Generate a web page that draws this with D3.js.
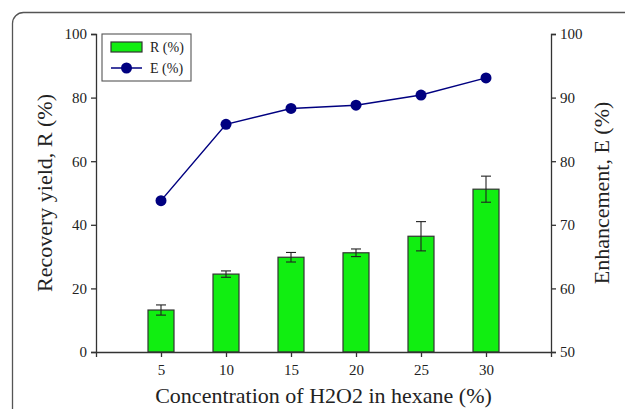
<!DOCTYPE html>
<html>
<head>
<meta charset="utf-8">
<script src="https://cdn.jsdelivr.net/npm/d3@7"></script>
<style>
  body { margin: 0; background: #fff; }
  svg text { font-family: "Liberation Serif", "Times New Roman", Times, serif; fill: #222; }
</style>
</head>
<body>
<div id="chart"></div>
<script>
// data
var conc = [5, 10, 15, 20, 25, 30];
var recovery = [13.2, 24.5, 29.8, 31.2, 36.4, 51.2];
var recoveryErr = [1.6, 1.0, 1.5, 1.2, 4.6, 4.1];
var enhancement = [73.8, 85.8, 88.3, 88.8, 90.4, 93.1];
var leftTicks = [0, 20, 40, 60, 80, 100];
var rightTicks = [50, 60, 70, 80, 90, 100];

var serif = '"Liberation Serif", "Times New Roman", Times, serif';

var margin = {top: 34, right: 74, bottom: 57, left: 96},
    width = 625 - margin.left - margin.right,
    height = 409 - margin.top - margin.bottom;

var svg = d3.select("#chart")
  .append("svg")
    .attr("width", 625)
    .attr("height", 409);

// frame around the figure
svg.append("rect")
  .attr("x", 12.5).attr("y", 12.5)
  .attr("width", 640).attr("height", 430)
  .attr("rx", 11)
  .style("fill", "none")
  .style("stroke", "#555")
  .style("stroke-width", 1.3);

var g = svg.append("g")
  .attr("transform", "translate(" + margin.left + "," + margin.top + ")")
  .attr("font-family", serif);

var x = d3.scaleLinear().domain([0, 35]).range([0, width]);
var y = d3.scaleLinear().domain([0, 100]).range([height, 0]);
var y2 = d3.scaleLinear().domain([50, 100]).range([height, 0]);

// bars
var barW = x(2) - x(0);
g.selectAll(".bar")
  .data(conc)
  .enter()
  .append("rect")
    .attr("x", function (d) { return x(d) - barW / 2; })
    .attr("y", function (d, i) { return y(recovery[i]); })
    .attr("width", barW)
    .attr("height", function (d, i) { return height - y(recovery[i]); })
    .style("fill", "#11ee11")
    .style("stroke", "#333")
    .style("stroke-width", 1.2);

// error bars
var err = g.selectAll(".err")
  .data(conc)
  .enter()
  .append("g")
    .style("stroke", "#222")
    .style("stroke-width", 1.1);
err.append("line")
  .attr("x1", function (d) { return x(d); })
  .attr("x2", function (d) { return x(d); })
  .attr("y1", function (d, i) { return y(recovery[i] + recoveryErr[i]); })
  .attr("y2", function (d, i) { return y(recovery[i] - recoveryErr[i]); });
err.append("line")
  .attr("x1", function (d) { return x(d) - 5; })
  .attr("x2", function (d) { return x(d) + 5; })
  .attr("y1", function (d, i) { return y(recovery[i] + recoveryErr[i]); })
  .attr("y2", function (d, i) { return y(recovery[i] + recoveryErr[i]); });
err.append("line")
  .attr("x1", function (d) { return x(d) - 5; })
  .attr("x2", function (d) { return x(d) + 5; })
  .attr("y1", function (d, i) { return y(recovery[i] - recoveryErr[i]); })
  .attr("y2", function (d, i) { return y(recovery[i] - recoveryErr[i]); });

// E line + dots
var line = d3.line()
  .x(function (d) { return x(d); })
  .y(function (d, i) { return y2(enhancement[i]); });
g.append("path")
  .datum(conc)
  .attr("d", line)
  .style("fill", "none")
  .style("stroke", "#000080")
  .style("stroke-width", 1.5);
g.selectAll(".dot")
  .data(conc)
  .enter()
  .append("circle")
    .attr("cx", function (d) { return x(d); })
    .attr("cy", function (d, i) { return y2(enhancement[i]); })
    .attr("r", 5.5)
    .style("fill", "#000080");

// axes
function styleAxis(sel) {
  sel.attr("font-family", serif).attr("font-size", 15);
  sel.selectAll("path, line").style("stroke", "#333").style("stroke-width", 1.3);
  sel.selectAll("text").style("fill", "#222");
}

g.append("g")
  .attr("transform", "translate(0," + height + ")")
  .call(d3.axisBottom(x).tickValues(conc).tickSizeOuter(0).tickSize(5).tickPadding(7))
  .call(styleAxis);

g.append("g")
  .call(d3.axisLeft(y).tickValues(leftTicks).tickSizeOuter(0).tickSize(5).tickPadding(4))
  .call(styleAxis);

g.append("g")
  .attr("transform", "translate(" + width + ",0)")
  .call(d3.axisRight(y2).tickValues(rightTicks).tickSizeOuter(0).tickSize(5).tickPadding(4))
  .call(styleAxis);

// axis titles
g.append("text")
  .attr("x", width / 2)
  .attr("y", height + 51)
  .attr("text-anchor", "middle")
  .style("font-size", "22px")
  .text("Concentration of H2O2 in hexane (%)");

g.append("text")
  .attr("transform", "translate(-44," + height / 2 + ")rotate(-90)")
  .attr("text-anchor", "middle")
  .style("font-size", "22px")
  .text("Recovery yield, R (%)");

g.append("text")
  .attr("transform", "translate(" + (width + 58) + "," + height / 2 + ")rotate(-90)")
  .attr("text-anchor", "middle")
  .style("font-size", "22px")
  .text("Enhancement, E (%)");

// legend
var leg = g.append("g").attr("transform", "translate(6,0)");
leg.append("rect")
  .attr("x", 0).attr("y", 0).attr("width", 89).attr("height", 47)
  .style("fill", "#fff").style("stroke", "#555").style("stroke-width", 1.1);
leg.append("rect")
  .attr("x", 9).attr("y", 8).attr("width", 31).attr("height", 10)
  .style("fill", "#11ee11").style("stroke", "#333").style("stroke-width", 1.2);
leg.append("text").attr("x", 48).attr("y", 18).style("font-size", "14px").text("R (%)");
leg.append("line")
  .attr("x1", 9).attr("x2", 40).attr("y1", 34).attr("y2", 34)
  .style("stroke", "#000080").style("stroke-width", 1.5);
leg.append("circle").attr("cx", 24.5).attr("cy", 34).attr("r", 5.5).style("fill", "#000080");
leg.append("text").attr("x", 48).attr("y", 39).style("font-size", "14px").text("E (%)");
</script>
</body>
</html>
